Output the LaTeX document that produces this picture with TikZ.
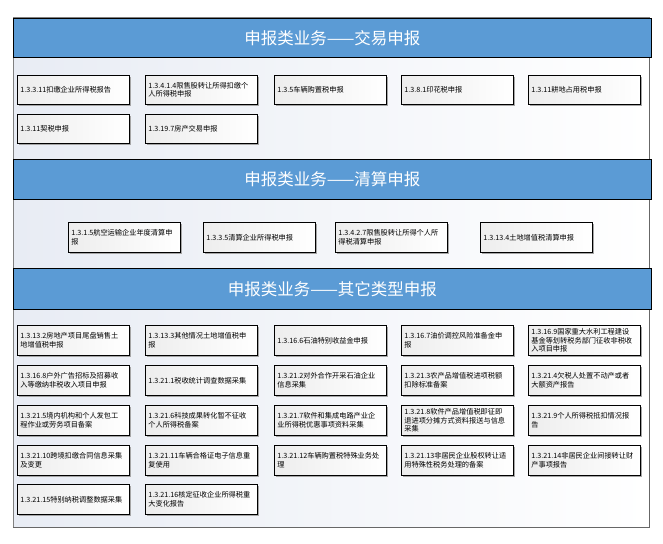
\documentclass[tikz,border=0pt]{standalone}
\usepackage{fontspec}
\setmainfont{Noto Sans CJK SC}
\usetikzlibrary{shadows}
\definecolor{hdrblue}{RGB}{91,155,213}
\definecolor{bgl}{RGB}{232,236,244}
\definecolor{framegray}{RGB}{128,128,128}
\tikzset{
  hdr/.style={draw=black, line width=0.8pt, fill=hdrblue, minimum width=638pt, anchor=north west, inner sep=0pt, text=white, font=\fontsize{16.5}{18}\selectfont},
  item/.style={draw=black, line width=0.7pt, anchor=north west, left color=gray!14, right color=white,
    text width=106pt, inner xsep=3pt, inner ysep=1pt, align=left,
    font=\fontsize{7.2}{8.8}\selectfont,
    drop shadow={shadow xshift=1.3pt, shadow yshift=-1.3pt, fill=gray!70, opacity=1}},
  trade/.style={item, minimum height=29pt},
  other/.style={item, minimum height=30pt}
}
\begin{document}
\begin{tikzpicture}[x=1pt,y=1pt]
\useasboundingbox (0,0) rectangle (663,-543);
\fill[white] (0,0) rectangle (663,-543);
% outer frame
\shade[left color=bgl, right color=white] (13,-18) rectangle (649,-527);
\draw[framegray, line width=1pt] (13,-18) rectangle (649,-527);
\draw[framegray!80!black, line width=1.6pt] (649.5,-18) -- (649.5,-527.5) -- (13,-527.5);
% headers
\node[hdr, minimum height=39pt] (h1) at (13,-18) {申报类业务——交易申报};
\node[hdr, minimum height=40pt] (h2) at (13,-159) {申报类业务——清算申报};
\node[hdr, minimum height=41pt] (h3) at (13,-268) {申报类业务——其它类型申报};
% trade
\node[trade] (t1) at (17,-75) {1.3.3.11扣缴企业所得税报告};
\node[trade] (t2) at (145,-75) {1.3.4.1.4限售股转让所得扣缴个\\人所得税申报};
\node[trade] (t3) at (274,-75) {1.3.5车辆购置税申报};
\node[trade] (t4) at (401,-75) {1.3.8.1印花税申报};
\node[trade] (t5) at (528,-75) {1.3.11耕地占用税申报};
\node[trade] (t6) at (17,-114) {1.3.11契税申报};
\node[trade] (t7) at (145,-114) {1.3.19.7房产交易申报};
% clearing
\node[other] (c1) at (68,-222) {1.3.1.5航空运输企业年度清算申\\报};
\node[other] (c2) at (203,-222) {1.3.3.5清算企业所得税申报};
\node[other] (c3) at (335,-222) {1.3.4.2.7限售股转让所得个人所\\得税清算申报};
\node[other] (c4) at (480,-222) {1.3.13.4土地增值税清算申报};
% other
\node[other] (o1) at (17,-325) {1.3.13.2房地产项目尾盘销售土\\地增值税申报};
\node[other] (o2) at (145,-325) {1.3.13.3其他情况土地增值税申\\报};
\node[other] (o3) at (274,-325) {1.3.16.6石油特别收益金申报};
\node[other] (o4) at (401,-325) {1.3.16.7油价调控风险准备金申\\报};
\node[other] (o5) at (528,-325) {1.3.16.9国家重大水利工程建设\\基金等划转税务部门征收非税收\\入项目申报};
\node[other] (o6) at (17,-365) {1.3.16.8户外广告招标及招募收\\入等缴纳非税收入项目申报};
\node[other] (o7) at (145,-365) {1.3.21.1税收统计调查数据采集};
\node[other] (o8) at (274,-365) {1.3.21.2对外合作开采石油企业\\信息采集};
\node[other] (o9) at (401,-365) {1.3.21.3农产品增值税进项税额\\扣除标准备案};
\node[other] (o10) at (528,-365) {1.3.21.4欠税人处置不动产或者\\大额资产报告};
\node[other] (o11) at (17,-405) {1.3.21.5境内机构和个人发包工\\程作业或劳务项目备案};
\node[other] (o12) at (145,-405) {1.3.21.6科技成果转化暂不征收\\个人所得税备案};
\node[other] (o13) at (274,-405) {1.3.21.7软件和集成电路产业企\\业所得税优惠事项资料采集};
\node[other] (o14) at (401,-405) {1.3.21.8软件产品增值税即征即\\退进项分摊方式资料报送与信息\\采集};
\node[other] (o15) at (528,-405) {1.3.21.9个人所得税抵扣情况报\\告};
\node[other] (o16) at (17,-445) {1.3.21.10跨境扣缴合同信息采集\\及变更};
\node[other] (o17) at (145,-445) {1.3.21.11车辆合格证电子信息重\\复使用};
\node[other] (o18) at (274,-445) {1.3.21.12车辆购置税特殊业务处\\理};
\node[other] (o19) at (401,-445) {1.3.21.13非居民企业股权转让适\\用特殊性税务处理的备案};
\node[other] (o20) at (528,-445) {1.3.21.14非居民企业间接转让财\\产事项报告};
\node[other] (o21) at (17,-484) {1.3.21.15特别纳税调整数据采集};
\node[other] (o22) at (145,-484) {1.3.21.16核定征收企业所得税重\\大变化报告};
\end{tikzpicture}
\end{document}
